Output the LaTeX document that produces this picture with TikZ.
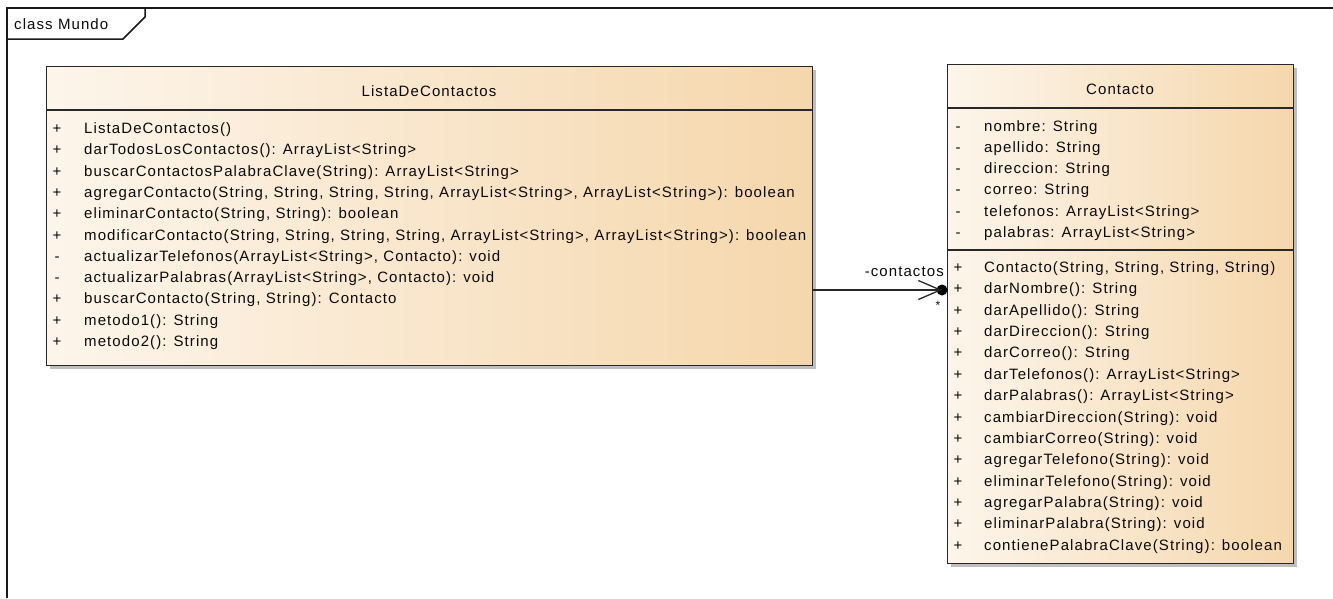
\documentclass[tikz,border=0pt]{standalone}
\usepackage{fontspec}
\setmainfont{Liberation Sans}
\newfontfamily\umlface[LetterSpace=7.3]{Liberation Sans}
\newcommand\umlfont{\umlface\fontsize{15}{18}\selectfont}
\usetikzlibrary{arrows.meta,shadows}
\definecolor{cL}{RGB}{253,245,235}
\definecolor{cR}{RGB}{245,215,172}
\definecolor{boxline}{RGB}{40,40,40}
\definecolor{txtc}{RGB}{10,10,10}
\tikzset{
  umlbox/.style={draw=boxline, line width=1.4pt, left color=cL, right color=cR,
    inner sep=0pt, anchor=north west,
    drop shadow={shadow xshift=3.5pt, shadow yshift=-3.5pt, fill=black, opacity=0.25}},
  sepline/.style={draw=boxline, line width=1.4pt},
  txt/.style={inner sep=0pt, anchor=base west, font=\umlfont, text=txtc},
  vis/.style={inner sep=0pt, anchor=base, font=\umlfont, text=txtc},
  title/.style={inner sep=0pt, anchor=base, font=\umlfont, text=txtc},
  framel/.style={draw=black!90, line width=1.5pt},
  ownerdot/.style={circle, fill=black, inner sep=0pt, minimum size=11pt},
  assoc/.style={draw=black!85, line width=1.3pt, -{Straight Barb[length=22pt,width=19pt,line width=1.3pt]}},
}
\begin{document}
\begin{tikzpicture}[x=1pt,y=-1pt]
\useasboundingbox (0,0) rectangle (1333,598);
% frame
\draw[framel] (7,598) -- (7,8) -- (1333,8);
\draw[framel] (7,39) -- (123,39) -- (145,17) -- (145,8);
\node[inner sep=0pt, anchor=base west, font=\umlfont, text=txtc] (frametitle) at (14,29) {class Mundo};

% ListaDeContactos
\node[umlbox, minimum width=766pt, minimum height=299pt] (lista) at (46,66) {};
\draw[sepline] (lista.west |- 0,110) -- (lista.east |- 0,110);
\node[title] (listatitle) at (429,96) {ListaDeContactos};
\foreach \v [count=\i] in {+,+,+,+,+,+,-,-,+,+,+}
  \node[vis] (lv\i) at (57, 112.2+21.3*\i) {\v};
\foreach \t [count=\i] in {
  {ListaDeContactos()},
  {darTodosLosContactos(): ArrayList<String>},
  {buscarContactosPalabraClave(String): ArrayList<String>},
  {agregarContacto(String, String, String, String, ArrayList<String>, ArrayList<String>): boolean},
  {eliminarContacto(String, String): boolean},
  {modificarContacto(String, String, String, String, ArrayList<String>, ArrayList<String>): boolean},
  {actualizarTelefonos(ArrayList<String>, Contacto): void},
  {actualizarPalabras(ArrayList<String>, Contacto): void},
  {buscarContacto(String, String): Contacto},
  {metodo1(): String},
  {metodo2(): String}}
  \node[txt] (lm\i) at (84, 112.2+21.3*\i) {\t};

% Contacto
\node[umlbox, minimum width=346pt, minimum height=499pt] (contacto) at (947,64) {};
\draw[sepline] (contacto.west |- 0,108) -- (contacto.east |- 0,108);
\draw[sepline] (contacto.west |- 0,250) -- (contacto.east |- 0,250);
\node[title] (contactotitle) at (1120,94.5) {Contacto};
\foreach \t [count=\i] in {
  {nombre: String},
  {apellido: String},
  {direccion: String},
  {correo: String},
  {telefonos: ArrayList<String>},
  {palabras: ArrayList<String>}}
{
  \node[vis] (cav\i) at (958, 110+21.2*\i) {-};
  \node[txt] (ca\i) at (984, 110+21.2*\i) {\t};
}
\foreach \t [count=\i] in {
  {Contacto(String, String, String, String)},
  {darNombre(): String},
  {darApellido(): String},
  {darDireccion(): String},
  {darCorreo(): String},
  {darTelefonos(): ArrayList<String>},
  {darPalabras(): ArrayList<String>},
  {cambiarDireccion(String): void},
  {cambiarCorreo(String): void},
  {agregarTelefono(String): void},
  {eliminarTelefono(String): void},
  {agregarPalabra(String): void},
  {eliminarPalabra(String): void},
  {contienePalabraClave(String): boolean}}
{
  \node[vis] (cmv\i) at (958, 251.2+21.35*\i) {+};
  \node[txt] (cm\i) at (984, 251.2+21.35*\i) {\t};
}

% association
\node[ownerdot] (own) at (942,290) {};
\draw[assoc] (lista.east |- own) -- (own.center);
\node[inner sep=0pt, anchor=base east, font=\umlfont, text=txtc] (role) at (944,276) {-contactos};
\node[inner sep=0pt, anchor=center, font=\umlface\fontsize{12}{12}\selectfont, text=txtc] (mult) at (938,305) {*};
\end{tikzpicture}
\end{document}
